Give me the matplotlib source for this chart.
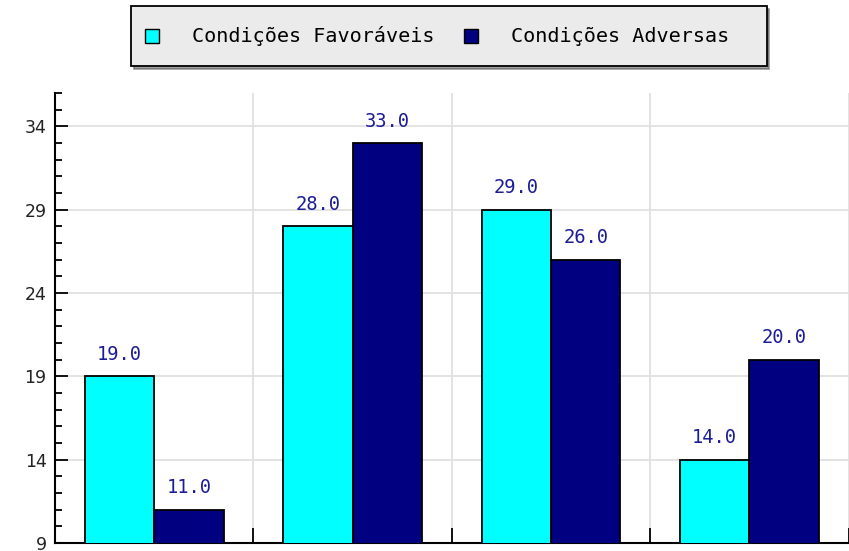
import matplotlib.pyplot as plt
from matplotlib.patches import Patch, Rectangle
from matplotlib.legend_handler import HandlerPatch
from matplotlib.ticker import MultipleLocator
import numpy as np

# dados
categories = ["G1", "G2", "G3", "G4"]
favoraveis = [19.0, 28.0, 29.0, 14.0]
adversas = [11.0, 33.0, 26.0, 20.0]
series_names = ["Condições Favoráveis", "Condições Adversas\u00a0\u00a0"]
y_ticks = [9, 14, 19, 24, 29, 34]

CYAN = "#00ffff"
NAVY = "#000080"
LABEL_COLOR = "#1c1c96"
MONO = "DejaVu Sans Mono"


def small_square(legend, orig_handle, xdescent, ydescent, width, height, fontsize):
    # quadradinho centrado na caixa da legenda
    s = 0.7 * fontsize
    cx = -xdescent + width / 2
    cy = -ydescent + height / 2
    return Rectangle((cx - s / 2, cy - s / 2), s, s)


fig = plt.figure(figsize=(8.49, 5.51), dpi=100)
ax = fig.add_axes((55 / 849, 1 - 543 / 551, 793.5 / 849, 450 / 551))

x = np.arange(len(categories))
w = 0.35
b1 = ax.bar(x - w / 2, favoraveis, w, bottom=0, color=CYAN, edgecolor="black", linewidth=1.3, zorder=3)
b2 = ax.bar(x + w / 2, adversas, w, bottom=0, color=NAVY, edgecolor="black", linewidth=1.3, zorder=3)

for bars, vals in ((b1, favoraveis), (b2, adversas)):
    for rect, v in zip(bars, vals):
        ax.annotate(f"{v:.1f}", (rect.get_x() + rect.get_width() / 2, v),
                    xytext=(0, 9), textcoords="offset points",
                    ha="center", va="bottom", color=LABEL_COLOR,
                    fontsize=13.5, family=MONO)

ax.set_xlim(-0.5, len(categories) - 0.5)
ax.set_ylim(9, 36)

ax.set_yticks(y_ticks)
ax.yaxis.set_minor_locator(MultipleLocator(1))
ax.set_xticks(np.arange(len(categories) + 1) - 0.5)
ax.set_xticklabels([])

ax.tick_params(axis="y", which="major", direction="in", length=9, width=1.3,
               labelsize=12.5, labelcolor="#222222", pad=6)
ax.tick_params(axis="y", which="minor", direction="in", length=5, width=1.3)
ax.tick_params(axis="x", which="major", direction="in", length=11, width=1.3)

ax.grid(True, which="major", color="#e0e0e0", linewidth=1.3, zorder=0)
ax.set_axisbelow(True)

for side in ("top", "right"):
    ax.spines[side].set_visible(False)
for side in ("left", "bottom"):
    ax.spines[side].set_linewidth(1.5)

handles = [Patch(facecolor=c, edgecolor="black", linewidth=1) for c in (CYAN, NAVY)]
leg = fig.legend(handles, series_names, loc="center", bbox_to_anchor=(449 / 849, 1 - 36 / 551),
                 ncol=2, fancybox=False, shadow=True, framealpha=1,
                 facecolor="#ebebeb", edgecolor="black",
                 prop={"family": MONO, "size": 14.5},
                 handlelength=0.7, handleheight=2.2, handletextpad=1.65,
                 columnspacing=1.45, borderpad=0.65,
                 handler_map={Patch: HandlerPatch(patch_func=small_square)})
leg.get_frame().set_linewidth(1.3)

fig.savefig("out.png", dpi=100)
